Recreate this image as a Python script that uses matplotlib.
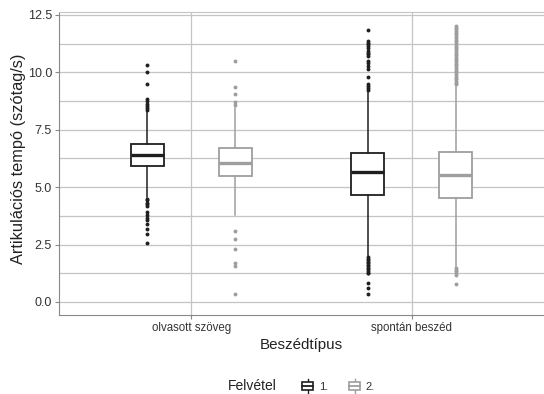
import matplotlib
matplotlib.use("Agg")
import matplotlib.pyplot as plt
from matplotlib.legend_handler import HandlerBase
from matplotlib.patches import Rectangle, Patch
from matplotlib.lines import Line2D

plt.rcParams["font.family"] = ["Liberation Sans", "DejaVu Sans"]

# --- data (box summary stats per group) ---
categories = ["olvasott szöveg", "spontán beszéd"]
groups = ["1.", "2."]

# group "1."
med_1 = [6.38, 5.66]
q1_1 = [5.93, 4.67]
q3_1 = [6.86, 6.50]
whislo_1 = [4.57, 2.00]
whishi_1 = [8.26, 9.13]
fliers_1 = [
    [10.32, 10.0, 9.49, 8.84, 8.74, 8.64, 8.55, 8.45, 8.35,
     4.50, 4.42, 4.33, 4.25, 4.17, 3.92, 3.80, 3.67, 3.55, 3.40, 3.17, 2.98, 2.55],
    [11.83, 11.37, 11.30, 11.22, 11.15, 11.05, 10.95, 10.86, 10.78, 10.72,
     10.50, 10.40, 10.27, 10.14, 9.78, 9.49, 9.40, 9.32, 9.24,
     1.95, 1.88, 1.82, 1.75, 1.68, 1.62, 1.55, 1.48, 1.42, 1.35, 1.28, 1.25,
     0.84, 0.59, 0.33],
]

# group "2."
med_2 = [6.05, 5.51]
q1_2 = [5.50, 4.54]
q3_2 = [6.71, 6.52]
whislo_2 = [3.78, 1.52]
whishi_2 = [8.45, 9.45]
fliers_2 = [
    [10.49, 9.35, 9.06, 8.69, 8.59, 3.10, 2.76, 2.31, 1.71, 1.55, 0.35],
    [12.02, 11.95, 11.88, 11.80, 11.72, 11.65, 11.57, 11.50, 11.42, 11.35,
     11.27, 11.20, 11.12, 11.05, 10.97, 10.90, 10.82, 10.75, 10.67, 10.60,
     10.52, 10.45, 10.37, 10.30, 10.22, 10.15, 10.07, 10.00, 9.92, 9.85,
     9.77, 9.70, 9.62, 9.55, 9.50,
     1.46, 1.40, 1.33, 1.26, 1.17, 0.77],
]

col_1 = "#1f1f1f"
col_2 = "#9e9e9e"
grid_col = "#c4c4c4"
text_col = "#333333"


def make_stats(med, q1, q3, lo, hi, fl):
    out = []
    for i in range(len(med)):
        out.append(dict(med=med[i], q1=q1[i], q3=q3[i], whislo=lo[i],
                        whishi=hi[i], fliers=fl[i]))
    return out


fig = plt.figure(figsize=(5.44, 3.94), dpi=100)
ax = fig.add_axes([59 / 544, 79 / 394, 485 / 544, 303 / 394])

for stats, col, off in [(make_stats(med_1, q1_1, q3_1, whislo_1, whishi_1, fliers_1), col_1, -0.2),
                        (make_stats(med_2, q1_2, q3_2, whislo_2, whishi_2, fliers_2), col_2, 0.2)]:
    ax.bxp(stats, positions=[1 + off, 2 + off], widths=0.15, showcaps=False,
           patch_artist=True,
           boxprops=dict(facecolor="white", edgecolor=col, linewidth=1.3),
           medianprops=dict(color=col, linewidth=2.4, solid_capstyle="butt"),
           whiskerprops=dict(color=col, linewidth=1.1),
           flierprops=dict(marker="o", markersize=2.8, markerfacecolor=col,
                           markeredgecolor="none"))

# axes / grid
ax.set_xlim(0.4, 2.6)
ax.set_ylim(-0.57, 12.63)
ax.set_xticks([1, 2])
ax.set_xticklabels(categories)
ax.set_yticks([0, 2.5, 5, 7.5, 10, 12.5])
ax.set_yticklabels(["0.0", "2.5", "5.0", "7.5", "10.0", "12.5"])
ax.set_yticks([1.25, 3.75, 6.25, 8.75, 11.25], minor=True)
ax.set_axisbelow(True)
ax.grid(True, which="major", color=grid_col, linewidth=0.9)
ax.grid(True, which="minor", axis="y", color=grid_col, linewidth=0.9)
ax.tick_params(which="major", length=3, color="#888888",
               labelcolor=text_col, pad=2)
ax.tick_params(axis="y", labelsize=9)
ax.tick_params(axis="x", labelsize=8.3)
ax.tick_params(which="minor", length=0)

ax.spines["right"].set_visible(False)
ax.spines["top"].set_color(grid_col)
ax.spines["left"].set_color("#888888")
ax.spines["bottom"].set_color("#888888")

ax.set_xlabel("Beszédtípus", fontsize=10.9, color="#222222", labelpad=3)
ax.set_ylabel("Artikulációs tempó (szótag/s)", fontsize=11.8, color="#222222", labelpad=3)
ax.yaxis.set_label_coords(-0.068, 0.515)


# --- legend with small boxplot keys ---
class BoxKey(HandlerBase):
    def create_artists(self, legend, orig_handle, xdescent, ydescent,
                       width, height, fontsize, trans):
        c = orig_handle.get_edgecolor()
        x0, y0 = -xdescent, -ydescent
        cx = x0 + width / 2
        bw = width
        b0 = y0 + height * 0.12
        b1 = y0 + height * 0.88
        wl = Line2D([cx, cx], [y0 - height * 0.15, y0 + height * 1.15], color=c,
                    linewidth=1.0, transform=trans)
        box = Rectangle((cx - bw / 2, b0), bw, b1 - b0, facecolor="white",
                        edgecolor=c, linewidth=1.2, transform=trans)
        mid = y0 + height * 0.5
        md = Line2D([cx - bw / 2, cx + bw / 2], [mid, mid], color=c,
                    linewidth=1.3, transform=trans)
        return [wl, box, md]


handles = [Patch(edgecolor=col_1, facecolor="white"),
           Patch(edgecolor=col_2, facecolor="white")]
leg = fig.legend(handles, groups, handler_map={Patch: BoxKey()}, ncol=2,
                 loc="center left", bbox_to_anchor=(302 / 544, 1 - 386 / 394),
                 frameon=False, fontsize=8, handlelength=1.0, handleheight=1.1,
                 handletextpad=0.5, columnspacing=1.9, borderpad=0, borderaxespad=0)
for t in leg.get_texts():
    t.set_color(text_col)
fig.text(228 / 544, 1 - 386 / 394, "Felvétel", fontsize=10, color="#222222",
         ha="left", va="center")

fig.savefig("out.png", dpi=100)
